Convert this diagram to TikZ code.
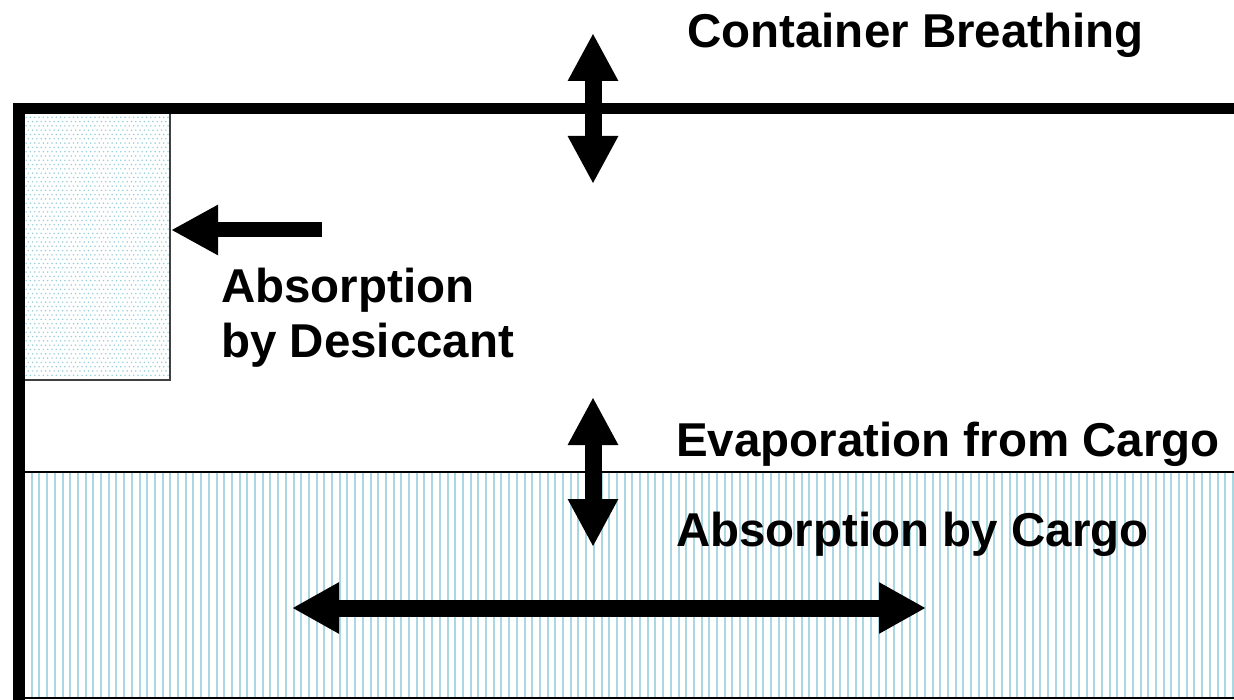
\documentclass[tikz,border=0pt]{standalone}
\usepackage{fontspec}
\setmainfont{Liberation Sans}
\usetikzlibrary{arrows.meta}
\definecolor{stripe}{RGB}{170,216,226}
\definecolor{dotc}{RGB}{150,205,218}
\tikzset{
  lbl/.style={font=\bfseries\fontsize{47.5}{55}\selectfont, anchor=base west, inner sep=0pt, align=left},
  blockarrow/.style={line width=17pt, draw=black, {Triangle[width=47pt,length=48pt]}-{Triangle[width=47pt,length=48pt]}},
  singlearrow/.style={line width=15pt, draw=black, -{Triangle[width=47pt,length=47pt]}},
}
\begin{document}
\begin{tikzpicture}[x=1pt,y=-1pt]
\useasboundingbox (0,0) rectangle (1234,700);
% cargo stripes
\foreach \i in {0,...,158} {
  \draw[stripe, line width=2pt] ({24+7.7*\i},472) -- ({24+7.7*\i},697);
}
% desiccant dots
\foreach \r in {0,...,62} {
  \pgfmathsetmacro{\off}{mod(\r,2)*2.15}
  \foreach \c in {0,...,33} {
    \fill[dotc] ({24+\off+4.3*\c},{113+4.3*\r}) circle (0.85pt);
  }
}
% desiccant box
\draw[draw=black!75, line width=1.5pt] (21,110) rectangle (170,380);
% cargo lines
\draw[black, line width=2pt] (24,472) -- (1234,472);
\draw[black, line width=2pt] (22,698) -- (1234,698);
% container walls
\draw[black, line width=11pt] (13,109) -- (1234,109);
\draw[black, line width=12pt] (19,103.5) -- (19,700);
% arrows
\coordinate (cbtop) at (593,33);
\coordinate (cbbot) at (593,184);
\draw[blockarrow] (cbtop) -- (cbbot);
\coordinate (evtop) at (593,397);
\coordinate (evbot) at (593,547);
\draw[blockarrow] (evtop) -- (evbot);
\coordinate (hl) at (292,608);
\coordinate (hr) at (926,608);
\draw[blockarrow, {Triangle[width=48pt,length=47pt]}-{Triangle[width=48pt,length=47pt]}] (hl) -- (hr);
\coordinate (dtail) at (322,230);
\coordinate (dtip) at (171,230);
\draw[singlearrow] (dtail) -- (dtip);
% labels
\node[lbl] (breath) at (687,48) {Container Breathing};
\node[lbl] (absdes) at (221,303) {Absorption};
\node[lbl] (absdes2) at (221,358) {by Desiccant};
\node[lbl] (evap) at (676,456) {Evaporation from Cargo};
\node[lbl] (abscargo) at (676,546) {Absorption by Cargo};
\end{tikzpicture}
\end{document}
